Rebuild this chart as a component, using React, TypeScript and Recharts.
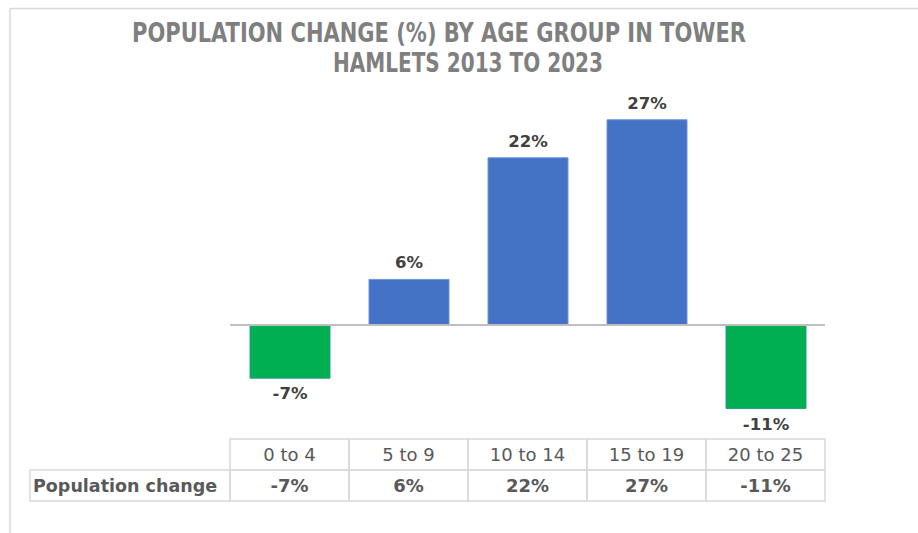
import { BarChart, Bar, XAxis, YAxis, Cell, LabelList, ReferenceLine } from "recharts";

const categories = ["0 to 4", "5 to 9", "10 to 14", "15 to 19", "20 to 25"];
const changes = [-7, 6, 22, 27, -11];
const rowLabel = "Population change";
const titleLines = ["POPULATION CHANGE (%) BY AGE GROUP IN TOWER", "HAMLETS 2013 TO 2023"];

const data = categories.map((c, i) => ({ group: c, change: changes[i] }));

const FONT = "'DejaVu Sans', sans-serif";
const GRID = "#d9d9d9";
const TEXT = "#595959";
const ROW_H = 31;

function TableTick(props: any) {
  const { x, y, payload, index, width, visibleTicksCount } = props;
  const cellW = width && visibleTicksCount ? width / visibleTicksCount : 119;
  const left = x - cellW / 2;
  const value = changes[index];
  return (
    <g>
      <rect x={left} y={y} width={cellW} height={ROW_H} fill="none" stroke={GRID} strokeWidth={1.5} />
      <rect x={left} y={y + ROW_H} width={cellW} height={ROW_H} fill="none" stroke={GRID} strokeWidth={1.5} />
      <text x={x} y={y + 22} textAnchor="middle" fill={TEXT} fontSize={18} fontFamily={FONT}>
        {payload.value}
      </text>
      <text x={x} y={y + ROW_H + 22} textAnchor="middle" fill={TEXT} fontSize={18} fontWeight="bold" fontFamily={FONT}>
        {value}%
      </text>
      {index === 0 && (
        <g>
          <rect x={30} y={y + ROW_H} width={left - 30} height={ROW_H} fill="none" stroke={GRID} strokeWidth={1.5} />
          <text x={33} y={y + ROW_H + 22} fill={TEXT} fontSize={17.5} fontWeight="bold" fontFamily={FONT}>
            {rowLabel}
          </text>
        </g>
      )}
    </g>
  );
}

function BarLabel(props: any) {
  const { x, y, width, height, value } = props;
  const top = Math.min(y, y + height);
  const bottom = Math.max(y, y + height);
  const ty = value >= 0 ? top - 11 : bottom + 21;
  return (
    <text x={x + width / 2} y={ty} textAnchor="middle" fill="#404040" fontSize={16.5} fontWeight="bold" fontFamily={FONT}>
      {value}%
    </text>
  );
}

export default function App() {
  return (
    <div style={{ position: "absolute", left: 0, top: 0, width: 918, height: 533, background: "#fff", overflow: "hidden" }}>
      <svg width={918} height={533} style={{ position: "absolute", left: 0, top: 0 }}>
        <line x1={10} y1={8.5} x2={918} y2={8.5} stroke={GRID} strokeWidth={1.5} />
        <line x1={10} y1={8.5} x2={10} y2={533} stroke={GRID} strokeWidth={1.5} />
        <text x={132} y={42} textLength={614} lengthAdjust="spacingAndGlyphs" fill="#7f7f7f" fontSize={26} fontWeight="bold" fontFamily="'DejaVu Sans Condensed', 'Liberation Sans Narrow', 'DejaVu Sans', sans-serif">
          {titleLines[0]}
        </text>
        <text x={333} y={72} textLength={270} lengthAdjust="spacingAndGlyphs" fill="#7f7f7f" fontSize={26} fontWeight="bold" fontFamily="'DejaVu Sans Condensed', 'Liberation Sans Narrow', 'DejaVu Sans', sans-serif">
          {titleLines[1]}
        </text>
      </svg>
      <div style={{ position: "absolute", left: 0, top: 0 }}>
        <BarChart width={918} height={533} data={data} margin={{ top: 97, right: 93, bottom: 32, left: 230 }}>
          <YAxis hide domain={[-15, 30]} type="number" />
          <XAxis
            dataKey="group"
            axisLine={false}
            tickLine={false}
            tickSize={0}
            tickMargin={0}
            interval={0}
            height={62}
            tick={<TableTick />}
          />
          <Bar dataKey="change" barSize={80} isAnimationActive={false}>
            {data.map((d, i) => (
              <Cell
                key={i}
                fill={d.change >= 0 ? "#4472C4" : "#00B050"}
                stroke={d.change >= 0 ? "#6f93d6" : "#2f9a8f"}
                strokeWidth={1}
              />
            ))}
            <LabelList dataKey="change" content={<BarLabel />} />
          </Bar>
          <ReferenceLine y={0} stroke="#bfbfbf" strokeWidth={2} />
        </BarChart>
      </div>
    </div>
  );
}
